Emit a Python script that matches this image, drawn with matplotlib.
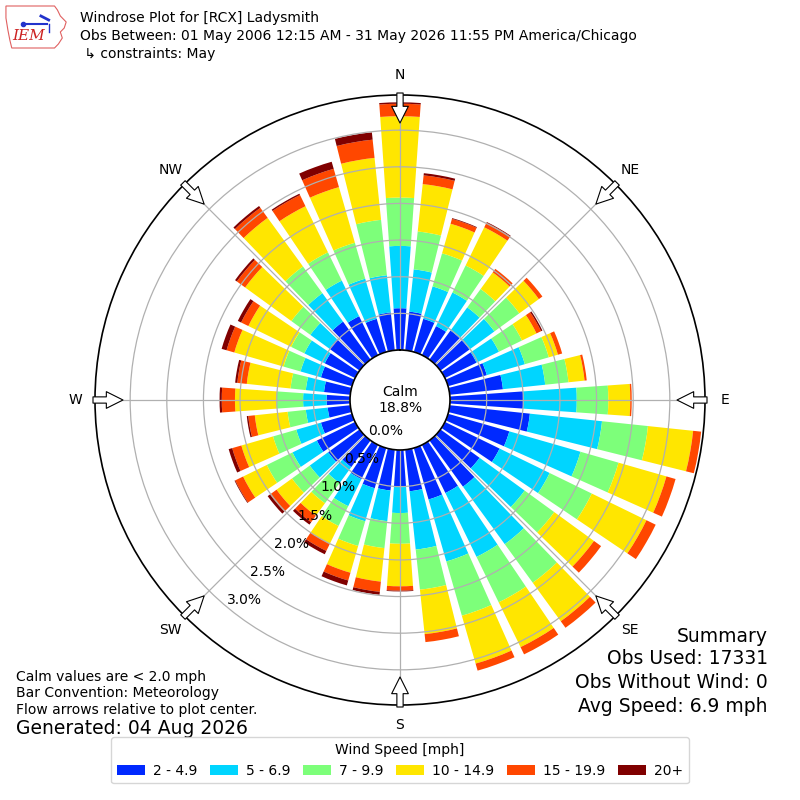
"""
plot.py
-------
Windrose for [RCX] Ladysmith, May observations 2006-2026.
Bars are stacked by wind speed bin, percent of all obs, with calm
observations shown as the hole in the middle.
"""

import matplotlib
matplotlib.use("Agg")
import matplotlib.pyplot as plt
import numpy as np
from matplotlib.patches import Polygon

# Bar directions (deg, meteorological convention: where wind blows from)
DIRECTIONS = list(range(0, 360, 10))

SPEED_LABELS = ["2 - 4.9", "5 - 6.9", "7 - 9.9", "10 - 14.9", "15 - 19.9", "20+"]

# Percent of observations per direction for each speed bin
PCT_2_5 = [0.57, 0.53, 0.47, 0.44, 0.49, 0.49, 0.48, 0.55, 0.73,
           1.00, 1.10, 0.87, 0.83, 0.66, 0.78, 0.73, 0.73, 0.57,
           0.50, 0.56, 0.57, 0.52, 0.45, 0.53, 0.58, 0.44, 0.31,
           0.32, 0.36, 0.44, 0.46, 0.51, 0.64, 0.59, 0.47, 0.52]
PCT_5_7 = [0.85, 0.58, 0.46, 0.51, 0.39, 0.42, 0.34, 0.54, 0.58,
           0.73, 0.99, 1.01, 0.76, 0.76, 0.97, 0.97, 0.88, 0.80,
           0.36, 0.42, 0.47, 0.41, 0.27, 0.31, 0.37, 0.35, 0.30,
           0.32, 0.25, 0.29, 0.31, 0.32, 0.48, 0.54, 0.57, 0.51]
PCT_7_10 = [0.66, 0.52, 0.47, 0.41, 0.31, 0.42, 0.35, 0.34, 0.32,
            0.43, 0.63, 0.54, 0.64, 0.50, 0.65, 0.69, 0.77, 0.55,
            0.42, 0.37, 0.35, 0.30, 0.34, 0.30, 0.39, 0.33, 0.25,
            0.36, 0.21, 0.24, 0.20, 0.32, 0.45, 0.43, 0.51, 0.76]
PCT_10_15 = [1.11, 0.65, 0.42, 0.58, 0.28, 0.33, 0.22, 0.13, 0.22,
             0.30, 0.62, 0.68, 0.83, 0.67, 0.65, 0.68, 0.68, 0.61,
             0.58, 0.46, 0.38, 0.27, 0.21, 0.26, 0.36, 0.45, 0.45,
             0.57, 0.60, 0.70, 0.65, 0.78, 0.82, 0.70, 0.79, 0.85]
PCT_15_20 = [0.17, 0.12, 0.07, 0.07, 0.06, 0.06, 0.07, 0.06, 0.03,
             0.02, 0.11, 0.13, 0.14, 0.12, 0.11, 0.11, 0.10, 0.11,
             0.06, 0.14, 0.11, 0.11, 0.11, 0.11, 0.12, 0.13, 0.09,
             0.18, 0.13, 0.11, 0.11, 0.14, 0.17, 0.17, 0.26, 0.25]
PCT_20_UP = [0.02, 0.03, 0.01, 0.01, 0.00, 0.00, 0.02, 0.00, 0.00,
             0.00, 0.00, 0.00, 0.00, 0.00, 0.00, 0.00, 0.00, 0.00,
             0.01, 0.04, 0.07, 0.05, 0.04, 0.04, 0.01, 0.05, 0.02,
             0.03, 0.03, 0.07, 0.05, 0.03, 0.03, 0.02, 0.10, 0.10]

CALM_PCT = 18.8
RTICKS = [0.0, 0.5, 1.0, 1.5, 2.0, 2.5, 3.0]
COMPASS = ["N", "NE", "E", "SE", "S", "SW", "W", "NW"]

TITLE_LINES = [
    "Windrose Plot for [RCX] Ladysmith",
    "Obs Between: 01 May 2006 12:15 AM - 31 May 2026 11:55 PM America/Chicago",
    " \u21b3 constraints: May",
]
NOTES = [
    "Calm values are < 2.0 mph",
    "Bar Convention: Meteorology",
    "Flow arrows relative to plot center.",
]
GENERATED = "Generated: 04 Aug 2026"
SUMMARY = ["Summary", "Obs Used: 17331", "Obs Without Wind: 0",
           "Avg Speed: 6.9 mph"]

RMAX = 3.48
# radial origin chosen so the calm hole is ~50px of the 305px radius
RORIGIN = -RMAX * 50.0 / 255.0


def px_to_r(px):
    """Pixel distance from plot center -> radial data units."""
    return (px - 50.0) / 255.0 * RMAX


def draw_logo(fig):
    ax = fig.add_axes([0.005, 0.935, 0.085, 0.06])
    ax.set_xlim(0, 70)
    ax.set_ylim(0, 48)
    ax.axis("off")
    iowa = [(2, 46), (52, 46), (55, 42), (58, 36), (64, 30), (62, 24),
            (58, 20), (60, 14), (56, 8), (52, 4), (8, 4), (6, 12),
            (4, 22), (2, 34)]
    ax.add_patch(Polygon(iowa, closed=True, fill=False, ec="#e06060", lw=0.8))
    ax.plot([20, 44], [28, 28], color="#2233cc", lw=1.5)
    ax.plot([20], [28], "o", color="#2233cc", ms=3)
    ax.plot([38, 46], [36, 32], color="#2233cc", lw=2)
    ax.plot([46, 46], [28, 20], color="#2233cc", lw=1)
    ax.text(8, 12, "IEM", color="#cc2222", fontsize=11, fontstyle="italic",
            family="DejaVu Serif")


def main():
    speed_bins = [PCT_2_5, PCT_5_7, PCT_7_10, PCT_10_15, PCT_15_20, PCT_20_UP]
    colors = [plt.cm.jet(i / 6.0) for i in range(1, 7)]

    fig = plt.figure(figsize=(8, 8), dpi=100)
    ax = fig.add_axes([0.11875, 0.11875, 0.7625, 0.7625], projection="polar")
    ax.set_theta_zero_location("N")
    ax.set_theta_direction(-1)

    theta = np.deg2rad(DIRECTIONS)
    width = np.deg2rad(8)
    bottom = np.zeros(len(DIRECTIONS))
    for vals, color, label in zip(speed_bins, colors, SPEED_LABELS):
        vals = np.asarray(vals)
        ax.bar(theta, vals, width=width, bottom=bottom, color=color,
               linewidth=0, label=label)
        bottom = bottom + vals

    ax.set_ylim(0, RMAX)
    ax.set_rorigin(RORIGIN)
    ax.set_yticks(RTICKS)
    ax.set_yticklabels([f"{v:.1f}%" for v in RTICKS], fontsize=10)
    ax.set_rlabel_position(220)
    ax.set_xticks(np.deg2rad(np.arange(0, 360, 45)))
    ax.set_xticklabels([])
    ax.grid(True, color="#b0b0b0", linewidth=0.9)
    for name, sp in ax.spines.items():
        sp.set_color("black")
        sp.set_linewidth(1.2)

    ax.text(0.5, 0.5, f"Calm\n{CALM_PCT:.1f}%", transform=ax.transAxes,
            ha="center", va="center", fontsize=10)

    # compass labels + flow arrows
    r_lab = px_to_r(325)
    r_tail = px_to_r(307)
    r_tip = px_to_r(277)
    for i, name in enumerate(COMPASS):
        th = np.deg2rad(i * 45)
        ax.text(th, r_lab, name, ha="center", va="center", fontsize=10,
                clip_on=False)
        ax.annotate(
            "", xy=(th, r_tip), xytext=(th, r_tail), annotation_clip=False,
            arrowprops=dict(
                arrowstyle="simple,head_length=1.2,head_width=1.2,tail_width=0.45",
                fc="white", ec="black", lw=0.8, shrinkA=0, shrinkB=0,
                mutation_scale=10),
        )

    for i, line in enumerate(TITLE_LINES):
        fig.text(0.1, 1 - (18 + 18 * i) / 800, line, fontsize=10, va="center")
    draw_logo(fig)

    for y, line in zip([677, 693, 710], NOTES):
        fig.text(0.02, 1 - y / 800, line, fontsize=10, va="center")
    fig.text(0.02, 1 - 729 / 800, GENERATED, fontsize=13.5, va="center")

    for y, line in zip([636, 659, 682, 706], SUMMARY):
        fig.text(0.96, 1 - y / 800, line, fontsize=13.5, va="center", ha="right")

    fig.legend(loc="lower center", bbox_to_anchor=(0.5, 0.012), ncol=6,
               title="Wind Speed [mph]", fontsize=10, title_fontsize=10,
               columnspacing=0.9, handletextpad=0.6)

    fig.savefig("out.png", dpi=100)
    plt.close()


if __name__ == "__main__":
    main()
